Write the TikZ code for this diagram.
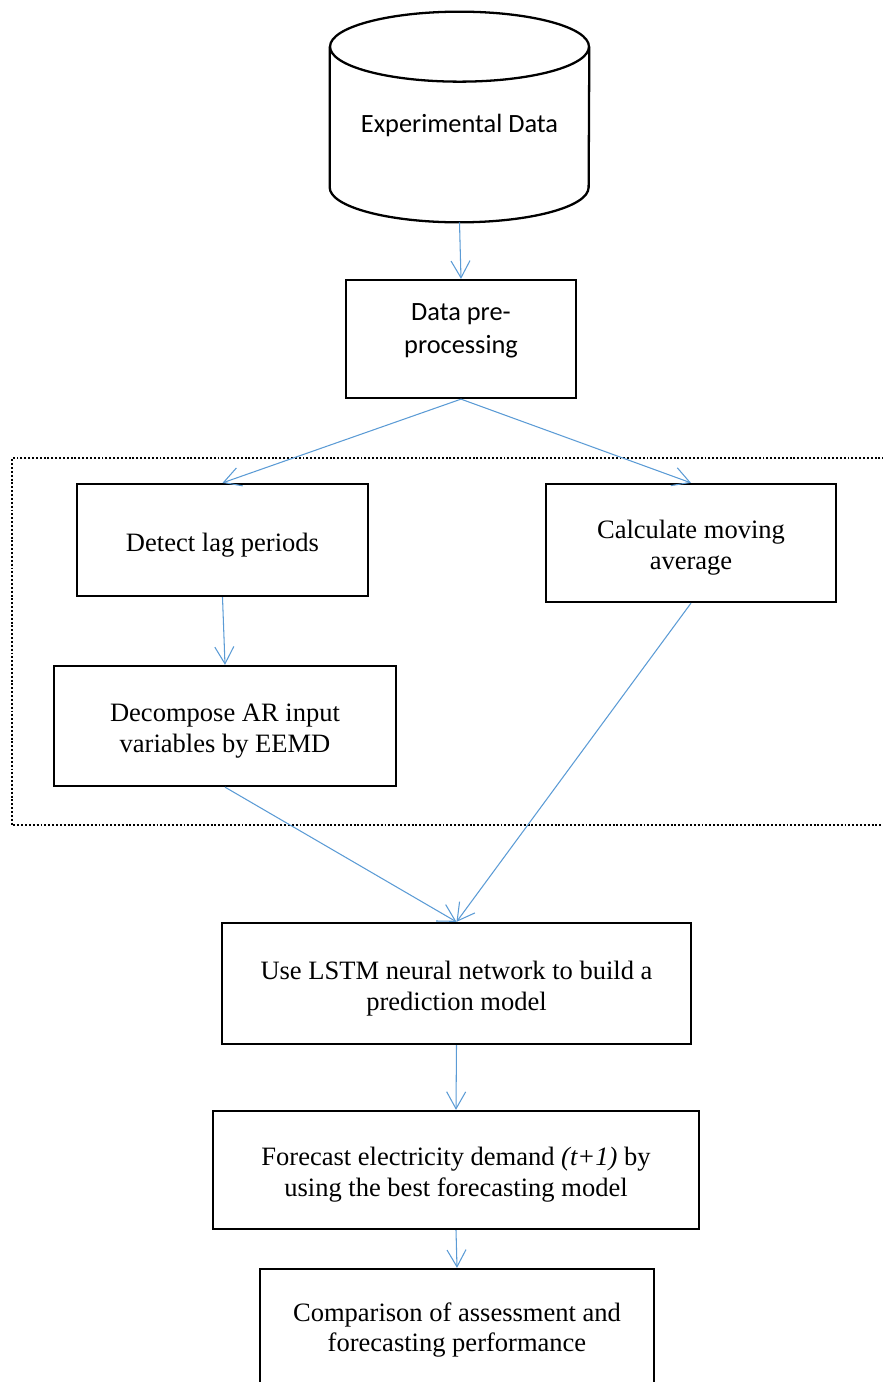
\documentclass[tikz,border=0pt]{standalone}
\usepackage{fontspec}
\setmainfont{Liberation Serif}
\newfontfamily\calibri{Carlito}
\usetikzlibrary{arrows.meta}
\definecolor{flowblue}{RGB}{91,155,213}
\newcommand{\topgap}{\rule{0pt}{16pt}}
\tikzset{>={Straight Barb[length=3.4mm,width=3.8mm]}}
\tikzset{box/.style={draw,line width=1.3pt,align=center,inner sep=2pt,
    font=\fontsize{15.1}{17.6}\selectfont}}
\tikzset{sansbox/.style={box,font=\calibri\fontsize{15}{19}\selectfont,
    execute at end node=\rule[-12pt]{0pt}{0pt}}}
\tikzset{flow/.style={->,draw=flowblue,line width=0.6pt}}

\begin{document}
\begin{tikzpicture}[x=0.02cm,y=-0.02cm]
                    \useasboundingbox (0,0) rectangle (882,1382);

                    % dotted frame round the feature steps
                    \draw[line width=1.1pt,dash pattern=on 1.1pt off 1.1pt] (892,458) -- (12,458) -- (12,825) -- (892,825);

                    \node[align=center,minimum width=5.18cm,minimum height=4.2cm,
                        font=\calibri\fontsize{15}{19}\selectfont] (data) at (459.5,117) {\raisebox{-9pt}[0pt][0pt]{Experimental Data}};
                    \draw[line width=1.3pt] ([yshift=-0.7cm]data.north) ellipse [x radius=2.59cm, y radius=0.7cm];
                    \draw[line width=1.3pt] ([yshift=-0.7cm]data.north west) -- ([yshift=0.7cm]data.south west)
                        arc[start angle=180, end angle=360, x radius=2.59cm, y radius=0.7cm] -- ([yshift=-0.7cm]data.north east);

                    \node[sansbox,minimum width=4.6cm,minimum height=2.36cm] (pre) at (461,339) {Data pre-\\processing};
                    \node[box,minimum width=5.82cm,minimum height=2.24cm] (lag) at (222.5,540) {\topgap Detect lag periods};
                    \node[box,minimum width=5.8cm,minimum height=2.36cm] (ma) at (691,543) {\topgap Calculate moving\\average};
                    \node[box,minimum width=6.84cm,minimum height=2.4cm] (eemd) at (225,726) {\topgap Decompose AR input\\variables by EEMD};
                    \node[box,minimum width=9.38cm,minimum height=2.42cm] (lstm) at (456.5,983.5) {\topgap Use LSTM neural network to build a\\prediction model};
                    \node[box,minimum width=9.72cm,minimum height=2.36cm] (fc) at (456,1170) {\topgap Forecast electricity demand \textit{(t+1)} by\\using the best forecasting model};
                    \node[box,minimum width=7.88cm,minimum height=2.44cm] (cmp) at (457,1330) {Comparison of assessment and\\forecasting performance};

                    \draw[flow] (data.south) -- (pre.north);
                    \draw[flow] (pre.south) -- (lag.north);
                    \draw[flow] (pre.south) -- (ma.north);
                    \draw[flow] (lag.south) -- (eemd.north);
                    \draw[flow] (eemd.south) -- (lstm.north);
                    \draw[flow] (ma.south) -- (lstm.north);
                    \draw[flow] (lstm.south) -- (fc.north);
                    \draw[flow] (fc.south) -- (cmp.north);
                \end{tikzpicture}
\end{document}
